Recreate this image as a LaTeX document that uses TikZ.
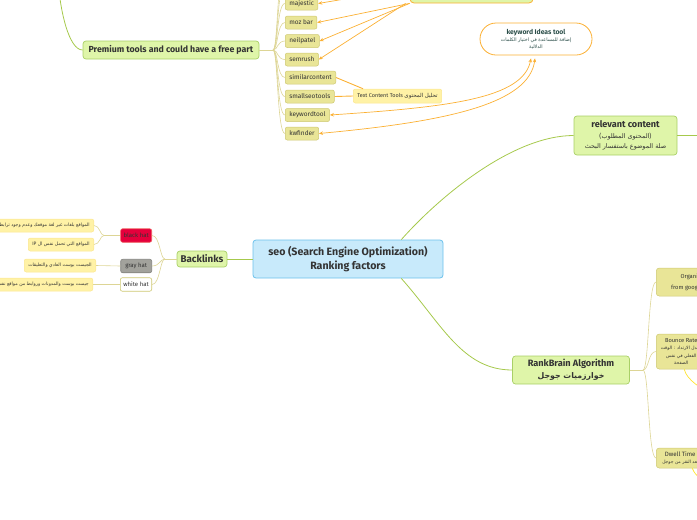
\documentclass[tikz,border=0pt]{standalone}
\usepackage{fontspec}
\setmainfont{Fira Sans}
\newfontfamily\arabicfont[Script=Arabic]{DejaVu Sans}
\TeXXeTstate=1
\usetikzlibrary{arrows.meta,calc}
\definecolor{rootfill}{HTML}{C8EAFB}
\definecolor{rootline}{HTML}{6CC2EC}
\definecolor{greenfill}{HTML}{DFF5A9}
\definecolor{greenline}{HTML}{A9D067}
\definecolor{branchgreen}{HTML}{A6C94C}
\definecolor{khakifill}{HTML}{E9E597}
\definecolor{khakiline}{HTML}{CEC872}
\definecolor{leaffill}{HTML}{FFF2A6}
\definecolor{leafline}{HTML}{FCE68E}
\definecolor{fanline}{HTML}{DDD595}
\definecolor{toolorange}{HTML}{FBB033}
\definecolor{hotyellow}{HTML}{FFE22E}
\definecolor{blackhatred}{HTML}{E5003C}
\definecolor{grayhatfill}{HTML}{A2A29C}
\definecolor{darktext}{HTML}{333333}
\definecolor{tealtext}{HTML}{2C4F4A}
\newcommand{\artext}[1]{{\arabicfont\beginR #1\endR}}

\begin{document}
\begin{tikzpicture}[
    x=1pt, y=1pt,
    root/.style={draw=rootline, fill=rootfill, rounded corners=3pt, line width=0.8pt,
                 minimum width=190pt, minimum height=38pt, align=center, text=darktext,
                 font=\fontsize{10.6}{14}\selectfont\bfseries},
    topic/.style={draw=greenline, fill=greenfill, rounded corners=3pt, line width=0.7pt,
                  align=center, text=darktext, inner sep=0pt},
    tool/.style={draw=khakiline, fill=khakifill, rounded corners=2pt, line width=0.5pt,
                 anchor=west, minimum height=13pt, inner xsep=4pt, inner ysep=0pt,
                 text=darktext, font=\fontsize{6.5}{7}\selectfont},
    leaf/.style={draw=leafline, fill=leaffill, rounded corners=2pt, line width=0.5pt,
                 anchor=east, minimum height=13pt, inner xsep=4pt, inner ysep=0pt,
                 text=darktext, font=\fontsize{4.6}{6}\selectfont},
    hat/.style={rounded corners=2pt, line width=0.6pt, anchor=east, minimum height=13.5pt,
                minimum width=31pt, inner xsep=3pt, text=darktext, font=\fontsize{6}{7}\selectfont},
    rankleaf/.style={draw=khakiline, fill=khakifill, rounded corners=3pt, line width=0.5pt,
                     anchor=west, align=center, inner sep=0pt, text=darktext},
    branch/.style={draw=branchgreen, line width=0.8pt},
    fan/.style={draw=fanline, line width=0.6pt},
    toolline/.style={draw=toolorange, line width=0.9pt},
    toolarrow/.style={draw=toolorange, line width=0.7pt, -{Stealth[length=4pt,width=3.5pt]}},
    linkline/.style={draw=hotyellow, line width=0.7pt}
]
\useasboundingbox (0,0) rectangle (697,-520);
\clip (0,0) rectangle (697,-520);

% --- central topic ---
\node[root] (seo) at (348,-259) {seo (Search Engine Optimization)\\Ranking factors};

% --- main topics ---
\node[topic, minimum width=50pt, minimum height=16pt,
      font=\fontsize{9.8}{11}\selectfont\bfseries] (backlinks) at (202,-259) {Backlinks};
\node[topic, minimum width=176pt, minimum height=18pt,
      font=\fontsize{8.8}{10}\selectfont\bfseries] (premium) at (171,-50) {Premium tools and could have a free part};
\node[topic, minimum width=103pt, minimum height=39pt,
      font=\fontsize{6.4}{10.8}\selectfont] (relevant) at (625.5,-135.5)
      {{\fontsize{9.1}{10.8}\selectfont\bfseries relevant content}\\(\artext{المحتوى المطلوب})\\\artext{صلة الموضوع باستفسار البحث}};
\node[topic, minimum width=117pt, minimum height=28pt,
      font=\fontsize{7.8}{12}\selectfont\bfseries] (rankbrain) at (571,-370)
      {{\fontsize{9.2}{12}\selectfont RankBrain Algorithm}\\\artext{خوارزميات جوجل}};

% --- tools ---
\node[tool] (majestic) at (285,-3.5) {majestic};
\node[tool] (mozbar) at (285,-22.5) {moz bar};
\node[tool] (neilpatel) at (285,-41) {neilpatel};
\node[tool] (semrush) at (285,-59.5) {semrush};
\node[tool] (similarcontent) at (285,-77.5) {similarcontent};
\node[tool] (smallseotools) at (285,-96.5) {smallseotools};
\node[tool] (keywordtool) at (285,-115) {keywordtool};
\node[tool] (kwfinder) at (285,-133.5) {kwfinder};

\node[draw=toolorange, fill=greenfill, rounded corners=4pt, line width=0.8pt,
      minimum width=123pt, minimum height=30pt] (freetools) at (471.5,12) {};
\node[leaf, anchor=center, minimum width=85pt, minimum height=14pt,
      font=\fontsize{5.5}{6}\selectfont] (textcontent) at (397.5,-96)
      {Text Content Tools \artext{تحليل المحتوى}};
\node[draw=toolorange, fill=white, rounded corners=16pt, line width=0.8pt,
      minimum width=112pt, minimum height=32pt, align=center, text=tealtext,
      font=\fontsize{4.8}{7}\selectfont] (kwideas) at (536,-39)
      {{\fontsize{6.8}{8}\selectfont\bfseries keyword Ideas tool}\\\artext{إضافة للمساعدة في اختيار الكلمات}\\\artext{الدلالية}};

% --- backlinks ---
\node[hat, fill=blackhatred, draw=blackhatred!60!leafline] (blackhat) at (152,-235.5) {black hat};
\node[hat, fill=grayhatfill, draw=grayhatfill!80!black] (grayhat) at (152,-266) {gray hat};
\node[hat, fill=white, draw=khakiline] (whitehat) at (152,-284.5) {white hat};

\node[leaf] (blackleafa) at (94,-225.5) {\artext{المواقع بلغات غير لغة موقعك وعدم وجود ترابط والمحتوى}};
\node[leaf] (blackleafb) at (94,-244.5) {\artext{المواقع التي تحمل نفس ال \beginL IP\endL}};
\node[leaf] (grayleaf) at (96,-265.5) {\artext{الجيست بوست العادي والتعليقات}};
\node[leaf] (whiteleaf) at (93,-284.5) {\artext{جيست بوست والمدونات وروابط من مواقع نفس المجال}};

% --- rankbrain ---
\node[rankleaf, minimum width=80pt, minimum height=28pt,
      font=\fontsize{5.8}{11}\selectfont] (organic) at (656,-282) {Organic CTR\\from google search};
\node[rankleaf, minimum width=50pt, minimum height=35pt,
      font=\fontsize{4.5}{7.5}\selectfont] (bounce) at (656,-351.5)
      {{\fontsize{5.7}{7.5}\selectfont Bounce Rate}\\\artext{معدل الارتداد : الوقت}\\\artext{الفعلي في نفس}\\\artext{الصفحة}};
\node[rankleaf, minimum width=48pt, minimum height=20pt,
      font=\fontsize{4.5}{7}\selectfont] (dwell) at (656,-458)
      {{\fontsize{6.2}{7}\selectfont Dwell Time}\\\artext{بعد النقر من جوجل}};

% --- free ends ---
\coordinate (premiumparent) at (58,20);
\coordinate (toolsabovea) at (285,15);
\coordinate (toolsaboveb) at (285,33);
\coordinate (relevantnext) at (720,-135.5);
\coordinate (bouncetarget) at (712,-393);
\coordinate (dwelltarget) at (706,-482);
\coordinate (premiumfork) at (273,-50);
\coordinate (backfork) at (165,-259);
\coordinate (blackfork) at (104,-235.5);
\coordinate (rankfork) at (643,-370);

% --- main branches ---
\draw[branch] (seo.20) .. controls +(40,45) and +(-60,0) .. (relevant.west);
\draw[branch] (seo.-20) .. controls +(40,-45) and +(-50,0) .. (rankbrain.west);
\draw[branch] (seo.west) -- (backlinks.east);
\draw[branch] (premium.west) .. controls +(-14,0) and +(2,-30) .. (premiumparent);
\draw[branch] (relevant.east) -- (relevantnext);

% --- tool fan ---
\draw[fan] (premium.east) -- (premiumfork);
\draw[fan] (premiumfork) .. controls +(5,0) and +(-8,0) .. (toolsaboveb);
\draw[fan] (premiumfork) .. controls +(5,0) and +(-8,0) .. (toolsabovea);
\draw[fan] (premiumfork) .. controls +(5,0) and +(-8,0) .. (majestic.west);
\draw[fan] (premiumfork) .. controls +(5,0) and +(-8,0) .. (mozbar.west);
\draw[fan] (premiumfork) .. controls +(5,0) and +(-8,0) .. (neilpatel.west);
\draw[fan] (premiumfork) .. controls +(5,0) and +(-8,0) .. (semrush.west);
\draw[fan] (premiumfork) .. controls +(5,0) and +(-8,0) .. (similarcontent.west);
\draw[fan] (premiumfork) .. controls +(5,0) and +(-8,0) .. (smallseotools.west);
\draw[fan] (premiumfork) .. controls +(5,0) and +(-8,0) .. (keywordtool.west);
\draw[fan] (premiumfork) .. controls +(5,0) and +(-8,0) .. (kwfinder.west);

% --- tool links ---
\draw[toolarrow] (freetools.west) -- (majestic.east);
\draw[toolarrow] (freetools.south west) -- (mozbar.east);
\draw[toolarrow] (freetools.south west) -- (neilpatel.east);
\draw[toolarrow] ([xshift=-4pt]freetools.south west) -- (semrush.east);
\draw[toolline] (similarcontent.east) -- ($(textcontent.north west)+(10,0)$);
\draw[toolline] (smallseotools.east) -- (textcontent.west);
\draw[toolarrow, {Stealth[length=4pt,width=3.5pt]}-{Stealth[length=4pt,width=3.5pt]}]
    (keywordtool.east) .. controls +(120,8) and +(-8,-40) .. ([xshift=-5pt,yshift=-3pt]kwideas.south);
\draw[toolarrow, {Stealth[length=4pt,width=3.5pt]}-{Stealth[length=4pt,width=3.5pt]}]
    (kwfinder.east) .. controls +(130,12) and +(-6,-45) .. ([xshift=-1pt,yshift=-3pt]kwideas.south);

% --- backlinks fan ---
\draw[fan] (backlinks.west) -- (backfork);
\draw[fan] (backfork) .. controls +(-5,0) and +(8,0) .. (blackhat.east);
\draw[fan] (backfork) .. controls +(-5,0) and +(8,0) .. (grayhat.east);
\draw[fan] (backfork) .. controls +(-5,0) and +(8,0) .. (whitehat.east);
\draw[fan] (blackhat.west) -- (blackfork);
\draw[fan] (blackfork) .. controls +(-4,0) and +(6,0) .. (blackleafa.east);
\draw[fan] (blackfork) .. controls +(-4,0) and +(6,0) .. (blackleafb.east);
\draw[fan] (grayhat.west) -- (grayleaf.east);
\draw[fan] (whitehat.west) -- (whiteleaf.east);

% --- rankbrain fan ---
\draw[fan] (rankbrain.east) -- (rankfork);
\draw[fan] (rankfork) .. controls +(6,0) and +(-8,0) .. (organic.west);
\draw[fan] (rankfork) .. controls +(6,0) and +(-8,0) .. (bounce.west);
\draw[fan] (rankfork) .. controls +(6,0) and +(-8,0) .. (dwell.west);
\draw[linkline] ([xshift=3pt]bounce.south) .. controls +(2,-10) and +(-10,3) .. (bouncetarget);
\draw[linkline] ([xshift=12pt]dwell.south) .. controls +(2,-6) and +(-6,3) .. (dwelltarget);

\end{tikzpicture}
\end{document}
